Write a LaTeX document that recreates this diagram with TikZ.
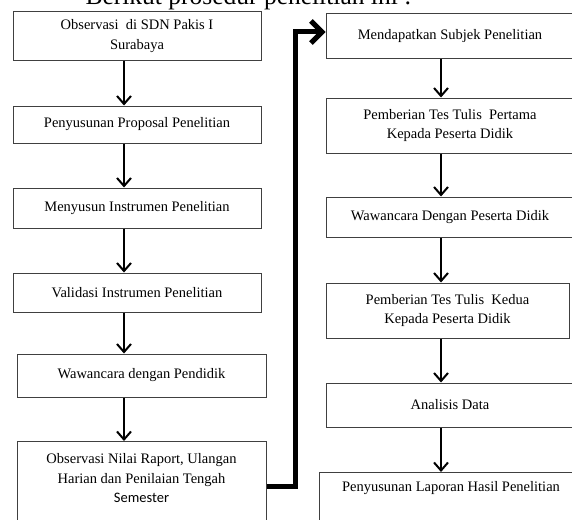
\documentclass[tikz,border=0pt]{standalone}
\usepackage{fontspec}
\setmainfont{Liberation Serif}
\newfontfamily\calibri{Carlito}
\usetikzlibrary{arrows.meta,positioning,calc}

\begin{document}
\begin{tikzpicture}
[x=1pt,y=-1pt,
every node/.style={font=\fontsize{14.5}{19.5}\selectfont,align=center},
box/.style={draw=black!75,line width=1pt,inner sep=0pt,minimum width=248pt},
arr/.style={line width=2pt,-{Straight Barb[length=8pt,width=14pt]}},
jump/.style={line width=5pt,-{Straight Barb[length=11pt,width=22pt]}}]
\useasboundingbox (0,0) rectangle (572,519);
\clip (0,0) rectangle (572,519);
\node[anchor=base west,font=\fontsize{25.5}{30}\selectfont] (judul) at (82,5) {Berikut prosedur penelitian ini :};
% kolom kiri
\node[box,minimum height=48pt] (obs) at (137,36) {Observasi\ \ di SDN Pakis I\\Surabaya};
\node[box,minimum height=37pt] (prop) at (137,124.5) {Penyusunan Proposal Penelitian};
\node[box,minimum height=40pt] (ins) at (137,208) {Menyusun Instrumen Penelitian};
\node[box,minimum height=39pt] (val) at (137,292.5) {Validasi Instrumen Penelitian};
\node[box,minimum height=43pt,minimum width=249pt] (waw) at (141.5,375.5) {Wawancara dengan Pendidik};
\node[box,anchor=north,minimum width=249pt,inner ysep=12pt,text depth=60pt] (nilai) at (141.5,441)
  {Observasi Nilai Raport, Ulangan\\Harian dan Penilaian Tengah\\{\calibri Semester}};
% kolom kanan
\node[box,minimum height=44pt] (subj) at (450,36) {Mendapatkan Subjek Penelitian};
\node[box,minimum height=55pt] (tes1) at (450,125.5) {Pemberian Tes Tulis\ \ Pertama\\Kepada Peserta Didik};
\node[box,minimum height=40pt] (wpd) at (450,217) {Wawancara Dengan Peserta Didik};
\node[box,minimum height=55pt,minimum width=243pt] (tes2) at (447.5,310.5) {Pemberian Tes Tulis\ \ Kedua\\Kepada Peserta Didik};
\node[box,minimum height=44pt] (anl) at (450,405) {Analisis Data};
\node[box,anchor=north,minimum width=264pt,inner ysep=9pt,text depth=50pt] (lap) at (451,472) {Penyusunan Laporan Hasil Penelitian};

\coordinate (kiri) at (124,0);
\coordinate (kanan) at (441,0);
\coordinate (naik) at (295,32);
\foreach \a/\b in {obs/prop,prop/ins,ins/val,val/waw,waw/nilai}
  \draw[arr] (\a.south -| kiri) -- (\b.north -| kiri);
\foreach \a/\b in {subj/tes1,tes1/wpd,wpd/tes2,tes2/anl,anl/lap}
  \draw[arr] (\a.south -| kanan) -- (\b.north -| kanan);
\draw[jump] (nilai.east |- 0,486) -| (naik) -- (subj.west |- naik);
\end{tikzpicture}
\end{document}
